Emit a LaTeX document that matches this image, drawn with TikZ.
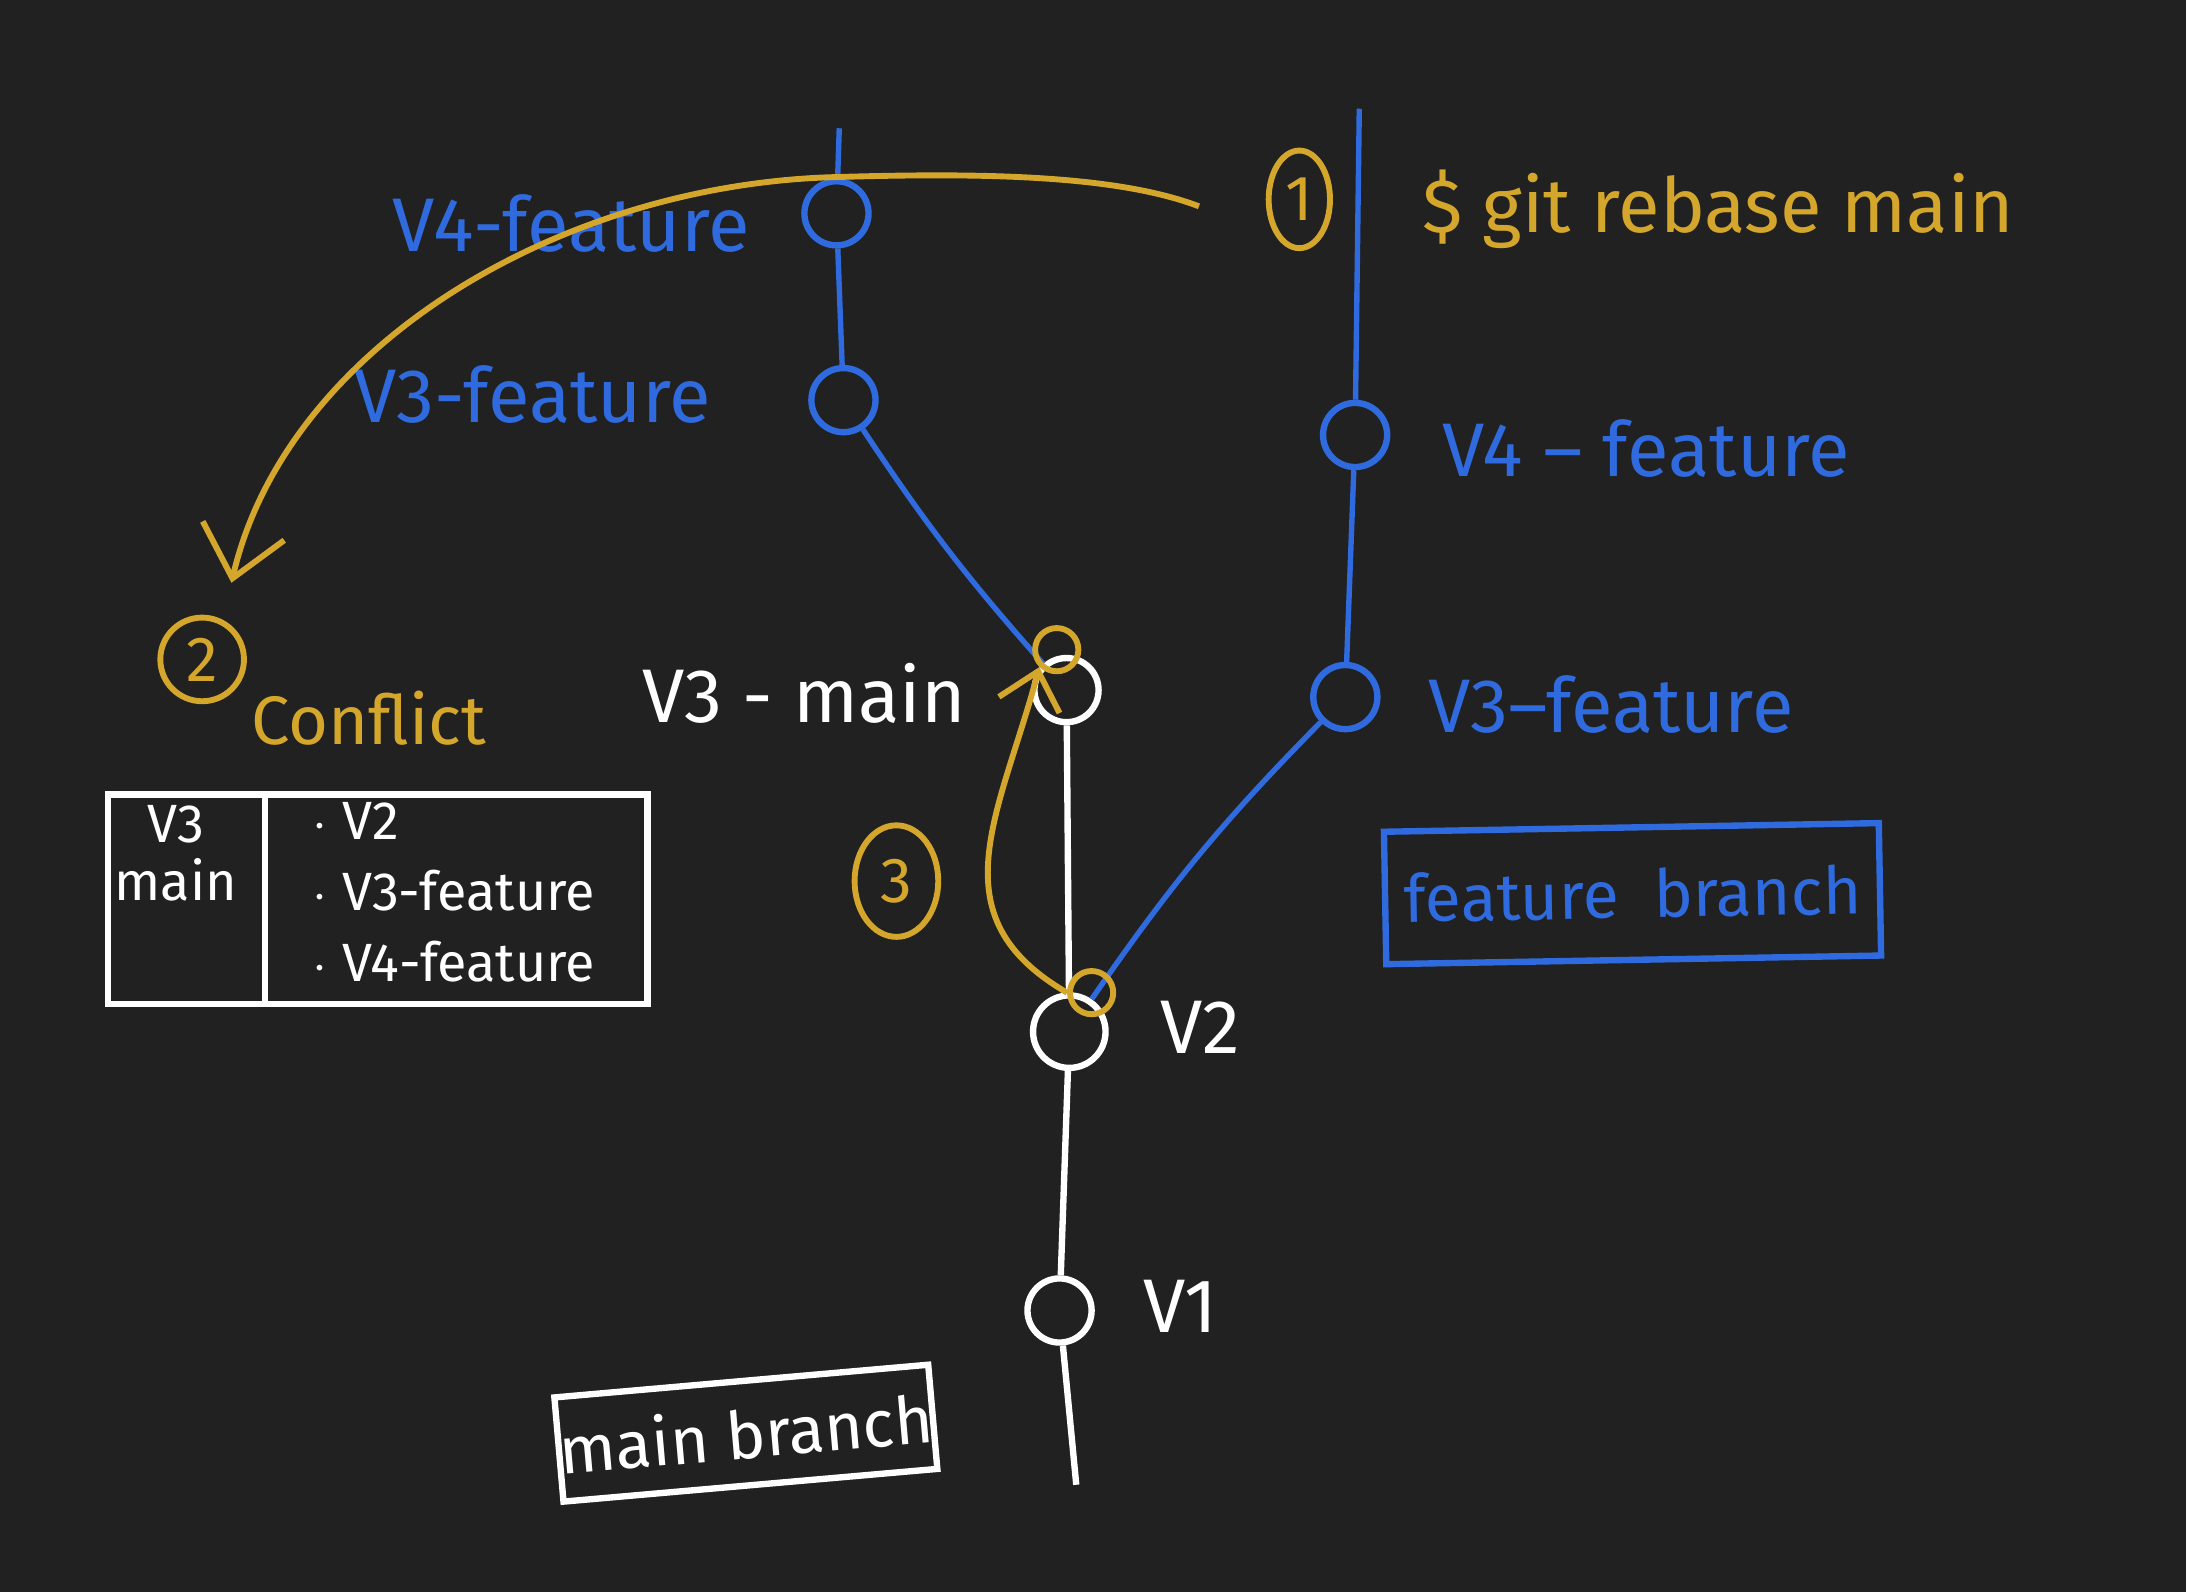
\documentclass[tikz,border=0pt]{standalone}
\usepackage{fontspec}
\setmainfont{Fira Sans}
\usetikzlibrary{arrows.meta,shapes.geometric}
\definecolor{board}{HTML}{212121}
\definecolor{inkblue}{HTML}{2F6BDF}
\definecolor{inkgold}{HTML}{D4A72C}
\begin{document}
\begin{tikzpicture}[x=0.1mm, y=-0.1mm,
    commit/.style={circle, draw, line width=1.3pt, minimum size=4.6mm, inner sep=0pt},
    ring/.style={circle, draw=inkgold, line width=1.2pt, minimum size=3.1mm, inner sep=0pt},
    stepno/.style={ellipse, draw=inkgold, text=inkgold, line width=1.2pt, inner sep=1.2pt, font=\fontsize{13}{15}\selectfont},
    label/.style={font=\fontsize{15.5}{18}\selectfont},
    branchbox/.style={rectangle, draw, line width=1.3pt, inner sep=0pt, font=\fontsize{13.5}{16}\selectfont},
    mainline/.style={white, line width=1.3pt},
    featline/.style={inkblue, line width=1.1pt},
    goldarrow/.style={inkgold, line width=1.2pt, -{Straight Barb[length=3.5mm, width=6mm]}}
]
    % Board
    \fill[board] (0,0) rectangle (1568,1142);

    % Main branch
    \node[commit, white] (v1) at (760, 940) {};
    \node[commit, white, minimum size=5.2mm] (v2) at (767, 740) {};
    \node[commit, white] (v3main) at (765, 495) {};
    \coordinate (mainroot) at (772, 1065);
    \draw[mainline] (v1) -- (mainroot);
    \draw[mainline] (v1) -- (v2);
    \draw[mainline] (v2) -- (v3main);
    \node[label, white, anchor=west] at (808, 937) {V1};
    \node[label, white, anchor=west] at (820, 737) {V2};
    \node[label, white, anchor=east] at (705, 497) {V3 - main};
    \node[branchbox, white, rotate=5, minimum width=25mm, minimum height=7.5mm] (mainbox) at (535, 1028) {main branch};

    % Feature branch before rebase
    \node[commit, inkblue] (lf3) at (605, 287) {};
    \node[commit, inkblue] (lf4) at (600, 153) {};
    \coordinate (lftip) at (602, 92);
    \draw[featline] (v3main) to[bend left=4] (lf3);
    \draw[featline] (lf3) -- (lf4);
    \draw[featline] (lf4) -- (lftip);
    \node[label, inkblue, anchor=east] at (550, 160) {V4-feature};
    \node[label, inkblue, anchor=east] at (522, 283) {V3-feature};

    % Feature branch after rebase
    \node[commit, inkblue] (rf3) at (965, 500) {};
    \node[commit, inkblue] (rf4) at (972, 312) {};
    \coordinate (rftip) at (975, 78);
    \draw[featline] (v2) to[bend left=5] (rf3);
    \draw[featline] (rf3) -- (rf4);
    \draw[featline] (rf4) -- (rftip);
    \node[label, inkblue, anchor=west] at (1022, 322) {V4 -- feature};
    \node[label, inkblue, anchor=west] at (1012, 505) {V3--feature};
    \node[branchbox, inkblue, rotate=1, minimum width=35.5mm, minimum height=9.5mm] (featbox) at (1171, 641) {feature\ \ branch};

    % Step 1: rebase command
    \node[stepno, minimum width=4.4mm, minimum height=7mm] (s1) at (932, 143) {1};
    \node[label, inkgold, anchor=west] (cmd) at (1008, 150) {\$ git rebase main};
    \coordinate (arcstart) at (860, 148);
    \coordinate (arcend) at (166, 418);
    \draw[goldarrow] (arcstart) .. controls (800,125) and (700,124) .. (600,127)
        .. controls (400,132) and (205,250) .. (arcend);

    % Step 2: conflict
    \node[stepno, minimum size=6mm] (s2) at (145, 473) {2};
    \node[inkgold, anchor=west, font=\fontsize{14}{16}\selectfont] at (168, 515) {Conflict};
    \node[rectangle, draw=white, line width=1.3pt, minimum width=38.7mm, minimum height=15mm] (conflicttab) at (271, 645) {};
    \draw[white, line width=1.3pt] (190, 572) -- (190, 718);
    \node[white, align=center, font=\fontsize{11}{12}\selectfont] at (126, 612) {V3\\main};
    \node[white, align=left, anchor=west, font=\fontsize{11}{14.5}\selectfont] at (212, 640)
        {$\cdot$ V2\\$\cdot$ V3-feature\\$\cdot$ V4-feature};

    % Step 3: replay onto main
    \node[stepno, minimum width=6mm, minimum height=8mm] (s3) at (643, 632) {3};
    \node[ring] (hl3) at (758, 466) {};
    \node[ring] (hl2) at (783, 712) {};
    \draw[goldarrow, -{Straight Barb[length=2.5mm, width=4.5mm]}] (hl2.west) to[out=150, in=255, looseness=1.2] (hl3.south west);
\end{tikzpicture}
\end{document}
